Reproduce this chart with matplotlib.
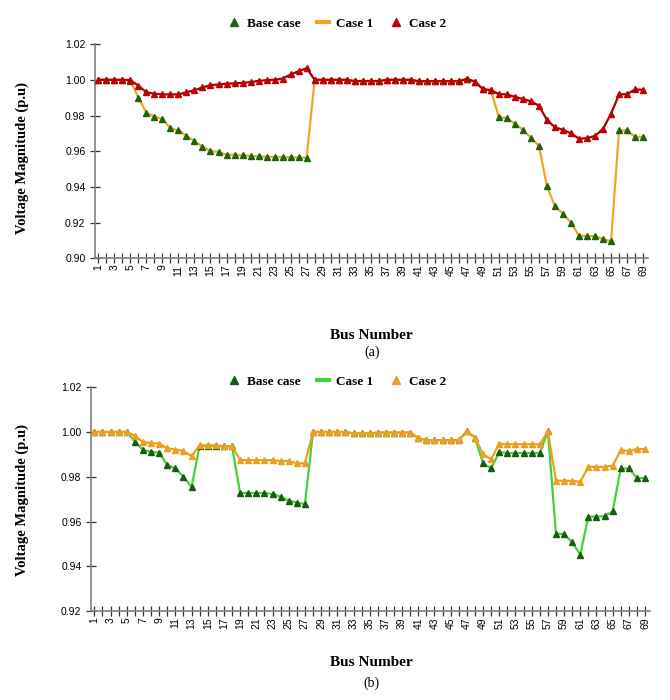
import matplotlib
matplotlib.use('Agg')
import matplotlib.pyplot as plt
from matplotlib.lines import Line2D

# bus numbers 1..69
buses = list(range(1, 70))

# (a) voltage profile, top panel
base_a = [1.000, 1.000, 1.000, 1.000, 0.9995, 0.990, 0.9814, 0.9794, 0.978, 0.9729,
          0.9716, 0.9686, 0.9656, 0.9626, 0.960, 0.9597, 0.958, 0.958, 0.9576, 0.9574,
          0.9571, 0.9569, 0.9568, 0.9567, 0.9566, 0.9565, 0.9563, 1.000, 1.000, 1.000,
          1.000, 1.000, 0.9993, 0.9993, 0.9993, 0.9993, 1.000, 1.000, 1.000, 1.000,
          0.9992, 0.9992, 0.9992, 0.9992, 0.9992, 0.9992, 1.0005, 0.999, 0.9948, 0.9942,
          0.979, 0.9786, 0.9753, 0.972, 0.9675, 0.963, 0.9403, 0.9292, 0.925, 0.920,
          0.9126, 0.9126, 0.9124, 0.9108, 0.9095, 0.9716, 0.9716, 0.968, 0.968]
case1_a = [1.000, 1.000, 1.000, 1.000, 0.9995, 0.990, 0.9814, 0.9794, 0.978, 0.9729,
           0.9716, 0.9686, 0.9656, 0.9626, 0.960, 0.9597, 0.958, 0.958, 0.9576, 0.9574,
           0.9571, 0.9569, 0.9568, 0.9567, 0.9566, 0.9565, 0.9563, 1.000, 1.000, 1.000,
           1.000, 1.000, 0.9993, 0.9993, 0.9993, 0.9993, 1.000, 1.000, 1.000, 1.000,
           0.9992, 0.9992, 0.9992, 0.9992, 0.9992, 0.9992, 1.0005, 0.999, 0.9948, 0.9942,
           0.979, 0.9786, 0.9753, 0.972, 0.9675, 0.963, 0.9403, 0.9292, 0.925, 0.920,
           0.9126, 0.9126, 0.9124, 0.9108, 0.9095, 0.9716, 0.9716, 0.968, 0.968]
case2_a = [1.000, 1.000, 1.000, 1.000, 0.9998, 0.9967, 0.993, 0.9922, 0.9918, 0.9918,
           0.9918, 0.993, 0.9942, 0.9957, 0.997, 0.9974, 0.9978, 0.998, 0.9983, 0.9987,
           0.9994, 0.9998, 1.000, 1.0007, 1.003, 1.0048, 1.0065, 1.000, 1.000, 1.000,
           1.000, 1.000, 0.9993, 0.9993, 0.9993, 0.9993, 1.000, 1.000, 1.000, 1.000,
           0.9992, 0.9992, 0.9992, 0.9992, 0.9992, 0.9992, 1.0005, 0.999, 0.9948, 0.9942,
           0.992, 0.9918, 0.9905, 0.9892, 0.988, 0.9855, 0.9775, 0.9734, 0.972, 0.970,
           0.967, 0.9673, 0.9686, 0.9725, 0.981, 0.9918, 0.992, 0.9946, 0.9944]

# (b) voltage profile, bottom panel
base_b = [1.000, 1.000, 1.000, 1.000, 1.000, 0.9957, 0.992, 0.9911, 0.9907, 0.9852,
          0.9837, 0.980, 0.9754, 0.9938, 0.9938, 0.9937, 0.9936, 0.9935, 0.9727, 0.9727,
          0.9727, 0.9727, 0.9723, 0.9711, 0.9693, 0.9684, 0.9678, 1.000, 1.000, 1.000,
          1.000, 1.000, 0.9993, 0.9993, 0.9993, 0.9997, 0.9997, 0.9997, 0.9997, 0.9997,
          0.9972, 0.9963, 0.9963, 0.9963, 0.9963, 0.9963, 1.0002, 0.9975, 0.9859, 0.9837,
          0.991, 0.9906, 0.9906, 0.9906, 0.9906, 0.9906, 1.0002, 0.9545, 0.9545, 0.9507,
          0.9452, 0.9622, 0.9622, 0.9624, 0.9645, 0.9837, 0.9837, 0.9794, 0.9794]
case1_b = [1.000, 1.000, 1.000, 1.000, 1.000, 0.9957, 0.992, 0.9911, 0.9907, 0.9852,
           0.9837, 0.980, 0.9754, 0.9938, 0.9938, 0.9937, 0.9936, 0.9935, 0.9727, 0.9727,
           0.9727, 0.9727, 0.9723, 0.9711, 0.9693, 0.9684, 0.9678, 1.000, 1.000, 1.000,
           1.000, 1.000, 0.9993, 0.9993, 0.9993, 0.9997, 0.9997, 0.9997, 0.9997, 0.9997,
           0.9972, 0.9963, 0.9963, 0.9963, 0.9963, 0.9963, 1.0002, 0.9975, 0.9859, 0.9837,
           0.991, 0.9906, 0.9906, 0.9906, 0.9906, 0.9906, 1.0002, 0.9545, 0.9545, 0.9507,
           0.9452, 0.9622, 0.9622, 0.9624, 0.9645, 0.9837, 0.9837, 0.9794, 0.9794]
case2_b = [1.000, 1.000, 1.000, 1.000, 1.000, 0.9982, 0.9955, 0.995, 0.9948, 0.9927,
           0.9921, 0.9915, 0.9892, 0.994, 0.994, 0.994, 0.9937, 0.9935, 0.9875, 0.9874,
           0.9874, 0.9874, 0.9874, 0.987, 0.987, 0.986, 0.986, 1.000, 1.000, 1.000,
           1.000, 1.000, 0.9993, 0.9993, 0.9993, 0.9997, 0.9997, 0.9997, 0.9997, 0.9997,
           0.9972, 0.9963, 0.9963, 0.9963, 0.9963, 0.9963, 1.0002, 0.9975, 0.990, 0.9878,
           0.9948, 0.9945, 0.9945, 0.9945, 0.9945, 0.9945, 1.0002, 0.9782, 0.9782, 0.9782,
           0.9777, 0.9844, 0.9844, 0.9844, 0.9849, 0.9918, 0.9915, 0.9923, 0.9923]

labels = ['Base case', 'Case 1', 'Case 2']
yticks_a = [0.90, 0.92, 0.94, 0.96, 0.98, 1.00, 1.02]
yticks_b = [0.92, 0.94, 0.96, 0.98, 1.00, 1.02]

serif = ['Liberation Serif', 'DejaVu Serif']
sans = ['Liberation Sans', 'DejaVu Sans']


def draw_panel(ax, base, case1, case2, c_base, c_case1, c_case2, c_mark2, yticks):
    ax.plot(buses, case1, color=c_case1, lw=1.6, zorder=2)
    ax.plot(buses, base, ls='none', marker='^', ms=4.0, color=c_base, zorder=3)
    ax.plot(buses, case2, color=c_case2, lw=1.6, marker='^', ms=4.0,
            mfc=c_mark2, mec=c_mark2, zorder=4)

    ax.set_xlim(0.6, 69.6)
    ax.set_ylim(yticks[0], yticks[-1])
    ax.set_yticks(yticks)
    ax.set_yticklabels(['%.2f' % v for v in yticks], family=sans, fontsize=7.5)
    ax.set_xticks(buses)
    ax.set_xticklabels([str(b) if b % 2 == 1 else '' for b in buses],
                       rotation=90, family=sans, fontsize=7.5)
    ax.tick_params(axis='both', direction='inout', length=7, width=0.9, color='#333333')
    ax.tick_params(axis='x', pad=1)
    for s in ['top', 'right']:
        ax.spines[s].set_visible(False)
    for s in ['left', 'bottom']:
        ax.spines[s].set_color('#7f7f7f')
        ax.spines[s].set_linewidth(1.2)

    handles = [Line2D([], [], ls='none', marker='^', ms=6, color=c_base),
               Line2D([], [], color=c_case1, lw=3),
               Line2D([], [], ls='none', marker='^', ms=6, color=c_mark2)]
    return handles


fig = plt.figure(figsize=(6.7, 7.0), dpi=100)

ax1 = fig.add_axes([0.142, 0.631, 0.825, 0.306])
h1 = draw_panel(ax1, base_a, case1_a, case2_a,
                '#1e6410', '#f2a524', '#a80000', '#c00000', yticks_a)
fig.legend(h1, labels, loc='center', bbox_to_anchor=(0.503, 0.966), ncol=3,
           frameon=False, handlelength=0.9, handletextpad=0.5, columnspacing=1.3,
           prop={'family': serif, 'size': 9.5, 'weight': 'bold'})
fig.text(0.033, 0.775, 'Voltage Magnitude (p.u)', rotation=90, ha='center', va='center',
         family=serif, fontsize=10.5, weight='bold')
fig.text(0.555, 0.521, 'Bus Number', ha='center', va='center',
         family=serif, fontsize=11, weight='bold')
fig.text(0.555, 0.497, '(a)', ha='center', va='center', family=serif, fontsize=10)

ax2 = fig.add_axes([0.136, 0.127, 0.834, 0.320])
h2 = draw_panel(ax2, base_b, case1_b, case2_b,
                '#1a5a14', '#3fd33a', '#eba020', '#eba020', yticks_b)
fig.legend(h2, labels, loc='center', bbox_to_anchor=(0.503, 0.455), ncol=3,
           frameon=False, handlelength=0.9, handletextpad=0.5, columnspacing=1.3,
           prop={'family': serif, 'size': 9.5, 'weight': 'bold'})
fig.text(0.033, 0.285, 'Voltage Magnitude (p.u)', rotation=90, ha='center', va='center',
         family=serif, fontsize=10.5, weight='bold')
fig.text(0.555, 0.053, 'Bus Number', ha='center', va='center',
         family=serif, fontsize=11, weight='bold')
fig.text(0.555, 0.024, '(b)', ha='center', va='center', family=serif, fontsize=10)

fig.savefig('out.png', dpi=100, facecolor='white')
